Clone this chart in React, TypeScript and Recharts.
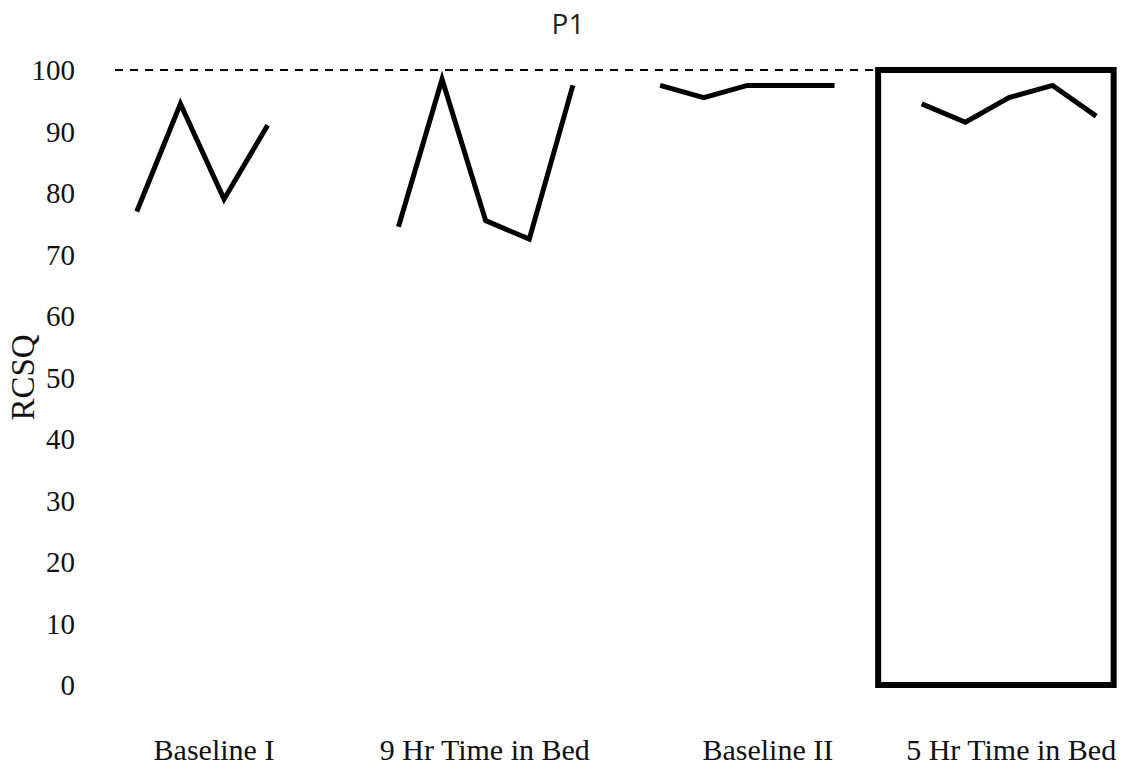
import { LineChart, Line, XAxis, YAxis, ReferenceLine, ReferenceArea } from 'recharts';

// one slot per night; null = gap between phases
const slots = [0, 1, 2, 3, 4, 5, 6, 7, 8, 9, 10, 11, 12, 13, 14, 15, 16, 17, 18, 19, 20, 21, 22];
const rcsq = [
  77, 94.5, 79, 91, null, null,
  74.5, 98.5, 75.5, 72.5, 97.5, null,
  97.5, 95.5, 97.5, 97.5, 97.5, null,
  94.5, 91.5, 95.5, 97.5, 92.5,
];

const phaseLabels = ['Baseline I', '9 Hr Time in Bed', 'Baseline II', '5 Hr Time in Bed'];
const phaseCenters = [1.77, 7.98, 14.47, 20.05];
const yTicks = [0, 10, 20, 30, 40, 50, 60, 70, 80, 90, 100];

const data = slots.map((s, i) => ({ slot: s, rcsq: rcsq[i] }));

const serif = '"Liberation Serif", "Times New Roman", serif';

export default function App() {
  return (
    <div style={{ position: 'absolute', left: 0, top: 0, width: 1128, height: 777, background: '#fff' }}>
      <div
        style={{
          position: 'absolute',
          left: 468,
          width: 200,
          top: 3,
          textAlign: 'center',
          fontFamily: '"Open Sans", "Noto Sans", sans-serif',
          fontSize: 28,
          lineHeight: '40px',
          color: '#222',
        }}
      >
        P1
      </div>
      <LineChart width={1128} height={777} data={data} margin={{ top: 70, right: 10, bottom: 0, left: 0 }}>
        <XAxis
          dataKey="slot"
          type="number"
          domain={[-0.5, 22.5]}
          ticks={phaseCenters}
          tickFormatter={(v: number) => phaseLabels[phaseCenters.indexOf(v)] ?? ''}
          axisLine={false}
          tickLine={false}
          tickSize={0}
          tickMargin={54}
          height={92}
          interval={0}
          tick={{ fontFamily: serif, fontSize: 30, fill: '#111' }}
        />
        <YAxis
          domain={[0, 100]}
          ticks={yTicks}
          axisLine={false}
          tickLine={false}
          tickSize={0}
          tickMargin={40}
          width={115}
          interval={0}
          tick={{ fontFamily: serif, fontSize: 29, fill: '#111' }}
          label={{
            value: 'RCSQ',
            angle: -90,
            position: 'insideLeft',
            offset: 22,
            style: { fontFamily: serif, fontSize: 33, fill: '#111', textAnchor: 'middle' },
          }}
        />
        <ReferenceLine y={100} stroke="#000" strokeWidth={2} strokeDasharray="8 7" />
        <ReferenceArea
          x1={17}
          x2={22.4}
          y1={0}
          y2={100}
          fill="none"
          fillOpacity={0}
          stroke="#000"
          strokeWidth={6}
          ifOverflow="visible"
        />
        <Line
          dataKey="rcsq"
          type="linear"
          stroke="#000"
          strokeWidth={5}
          dot={false}
          activeDot={false}
          isAnimationActive={false}
        />
      </LineChart>
    </div>
  );
}
